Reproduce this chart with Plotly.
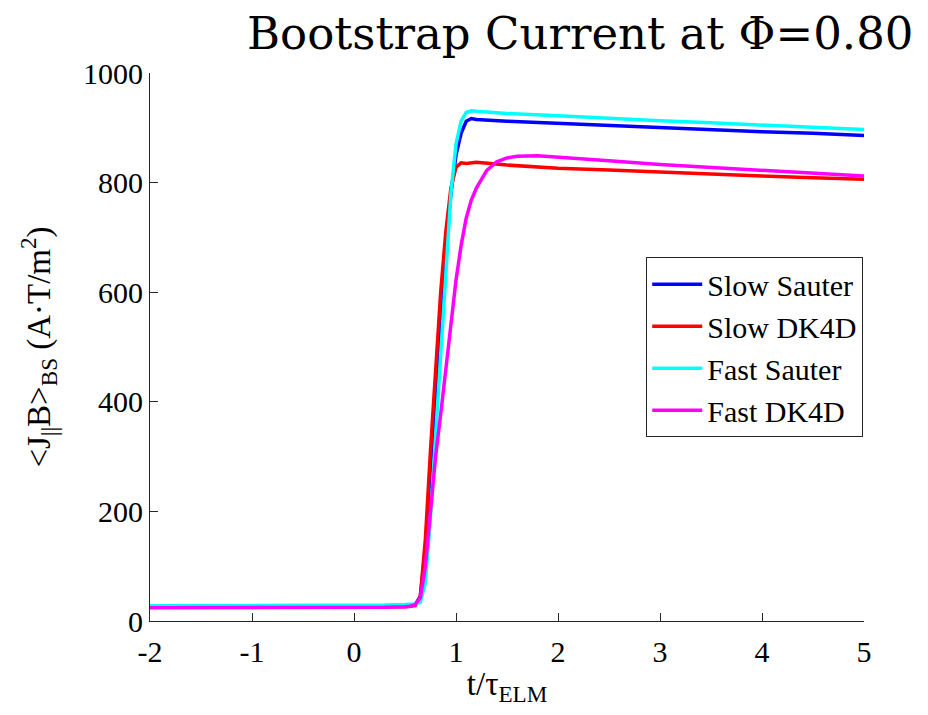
import plotly.graph_objects as go

# time axis (t / tau_ELM)
t_slow_sauter = [-2, -1, 0, 0.3, 0.5, 0.55, 0.6, 0.65, 0.7, 0.75, 0.8, 0.85, 0.9, 0.95, 1.0, 1.05, 1.1, 1.15, 1.2, 1.5, 2.0, 2.5, 3.0, 3.5, 4.0, 4.5, 5.0]
slow_sauter = [25, 25, 25, 26, 28, 29, 30, 45, 130, 280, 420, 560, 680, 780, 850, 890, 912, 917, 915, 912, 908, 904, 900, 897, 893, 890, 886]

t_slow_dk4d = [-2, -1, 0, 0.3, 0.5, 0.55, 0.6, 0.65, 0.7, 0.75, 0.8, 0.85, 0.9, 0.95, 1.0, 1.05, 1.1, 1.2, 1.5, 2.0, 2.5, 3.0, 3.5, 4.0, 4.5, 5.0]
slow_dk4d = [25, 25, 25, 25, 26, 27, 28, 44, 150, 312, 460, 600, 710, 790, 828, 836, 835, 837, 832, 826, 823, 819, 816, 812, 809, 806]

t_fast_sauter = [-2, -1, 0, 0.3, 0.5, 0.55, 0.6, 0.65, 0.7, 0.75, 0.8, 0.85, 0.9, 0.95, 1.0, 1.05, 1.1, 1.15, 1.2, 1.5, 2.0, 2.5, 3.0, 3.5, 4.0, 4.5, 5.0]
fast_sauter = [28, 28, 28, 29, 30, 31, 31, 34, 70, 190, 343, 498, 650, 780, 870, 912, 928, 931, 930, 926, 922, 917, 913, 909, 905, 901, 897]

t_fast_dk4d = [-2, -1, 0, 0.3, 0.5, 0.55, 0.6, 0.65, 0.7, 0.75, 0.8, 0.85, 0.9, 0.95, 1.0, 1.05, 1.1, 1.15, 1.2, 1.3, 1.4, 1.5, 1.6, 1.8, 2.0, 2.5, 3.0, 3.5, 4.0, 4.5, 5.0]
fast_dk4d = [24, 24, 24, 25, 26, 27, 30, 42, 100, 200, 300, 377, 460, 545, 622, 685, 735, 768, 790, 822, 838, 845, 848, 849, 846, 840, 833, 828, 822, 817, 812]

series_names = ["Slow Sauter", "Slow DK4D", "Fast Sauter", "Fast DK4D"]
series_colors = ["#0000ff", "#ff0000", "#00ffff", "#ff00ff"]

x_tickvals = [-2, -1, 0, 1, 2, 3, 4, 5]
x_ticktext = ["-2", "-1", "0", "1", "2", "3", "4", "5"]
y_tickvals = [0, 200, 400, 600, 800, 1000]
y_ticktext = ["0", "200", "400", "600", "800", "1000"]

FONT = "Liberation Serif, Times New Roman, Times, serif"
TITLE_FONT = "DejaVu Serif, Liberation Serif, serif"

fig = go.Figure()
for name, color, tx, ys in zip(series_names, series_colors,
                               [t_slow_sauter, t_slow_dk4d, t_fast_sauter, t_fast_dk4d],
                               [slow_sauter, slow_dk4d, fast_sauter, fast_dk4d]):
    fig.add_trace(go.Scatter(x=tx, y=ys, mode="lines", name=name,
                             line=dict(color=color, width=3.5)))

fig.update_layout(
    width=920, height=707,
    paper_bgcolor="white", plot_bgcolor="white",
    margin=dict(l=142, r=64, t=65, b=94, autoexpand=False),
    font=dict(family=FONT, color="black", size=29),
    showlegend=True,
    legend=dict(x=0.695, y=0.664, xanchor="left", yanchor="top",
                bgcolor="white", bordercolor="#262626", borderwidth=1,
                font=dict(family=FONT, size=30), tracegroupgap=0,
                itemwidth=50),
    xaxis=dict(range=[-2, 5], tickvals=x_tickvals, ticktext=x_ticktext,
               ticks="inside", ticklen=8, tickcolor="#262626",
               showline=True, linecolor="#262626", linewidth=1,
               showgrid=False, zeroline=False, mirror=False, automargin=False,
               tickfont=dict(family=FONT, size=30), ticklabelstandoff=4,
               title=dict(text="t/τ<sub>ELM</sub>", font=dict(family=FONT, size=33), standoff=4)),
    yaxis=dict(range=[0, 1000], tickvals=y_tickvals, ticktext=y_ticktext,
               ticks="inside", ticklen=8, tickcolor="#262626",
               showline=True, linecolor="#262626", linewidth=1,
               showgrid=False, zeroline=False, mirror=False, automargin=False,
               tickfont=dict(family=FONT, size=30),
               title=dict(text="&lt;J<sub>||</sub>B&gt;<sub>BS</sub> (A·T/m<sup>2</sup>)",
                          font=dict(family=FONT, size=33), standoff=22)),
    annotations=[dict(text="Bootstrap Current at Φ=0.80", xref="paper", yref="paper",
                      x=1.072, y=1.072, xanchor="right", yanchor="middle",
                      showarrow=False, font=dict(family=TITLE_FONT, size=45, color="black"))],
)

fig.write_html("out.html")
